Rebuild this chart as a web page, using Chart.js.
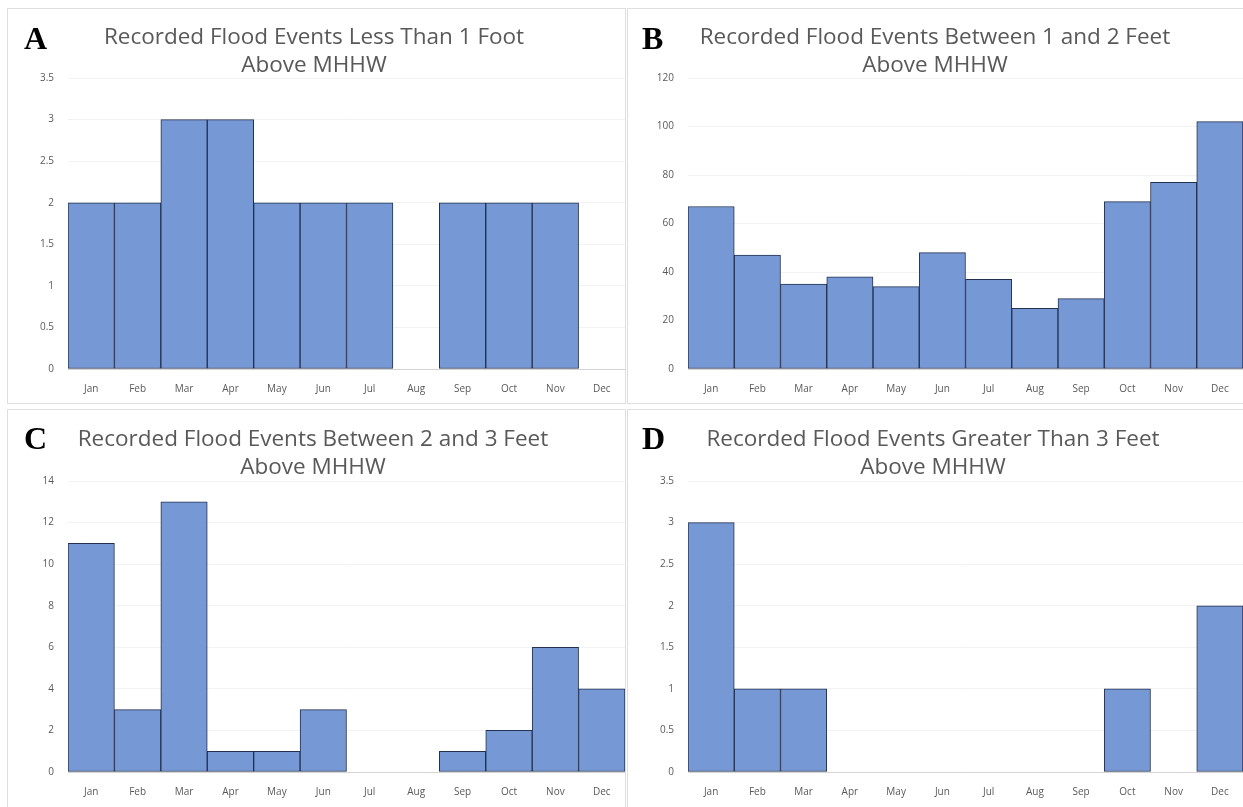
<!DOCTYPE html>
<html>
<head>
<meta charset="utf-8">
<script src="https://cdn.jsdelivr.net/npm/chart.js@4.4.1/dist/chart.umd.min.js"></script>
<style>
  body { margin: 0; background: #fff; width: 1243px; height: 807px; overflow: hidden; position: relative; }
  .frame { position: absolute; border: 1px solid #dedede; box-sizing: border-box; }
  .cv { position: absolute; }
  .letter { position: absolute; font-family: "Liberation Serif", "DejaVu Serif", serif; font-weight: bold; font-size: 32px; color: #000; line-height: 1; }
  .ttl { position: absolute; font-family: "Open Sans", sans-serif; font-size: 22.5px; color: #595959; white-space: nowrap; transform: translate(-50%, -50%); line-height: 1; }
</style>
</head>
<body>
<div class="frame" style="left:7px;top:8px;width:619px;height:396px"></div>
<div class="frame" style="left:627px;top:8px;width:630px;height:396px"></div>
<div class="frame" style="left:7px;top:409px;width:619px;height:420px"></div>
<div class="frame" style="left:627px;top:409px;width:630px;height:420px"></div>

<canvas class="cv" id="cA" style="left:0;top:0"></canvas>
<canvas class="cv" id="cB" style="left:620px;top:0"></canvas>
<canvas class="cv" id="cC" style="left:0;top:406px"></canvas>
<canvas class="cv" id="cD" style="left:620px;top:406px"></canvas>

<div class="letter" style="left:24px;top:22px">A</div>
<div class="letter" style="left:642px;top:22px">B</div>
<div class="letter" style="left:24px;top:422px">C</div>
<div class="letter" style="left:642px;top:422px">D</div>

<div class="ttl" style="left:314px;top:36px">Recorded Flood Events Less Than 1 Foot</div>
<div class="ttl" style="left:314px;top:64px">Above MHHW</div>
<div class="ttl" style="left:935px;top:36px">Recorded Flood Events Between 1 and 2 Feet</div>
<div class="ttl" style="left:935px;top:64px">Above MHHW</div>
<div class="ttl" style="left:313px;top:438px">Recorded Flood Events Between 2 and 3 Feet</div>
<div class="ttl" style="left:313px;top:466px">Above MHHW</div>
<div class="ttl" style="left:933px;top:438px">Recorded Flood Events Greater Than 3 Feet</div>
<div class="ttl" style="left:933px;top:466px">Above MHHW</div>

<script>
// month categories
const months = ['Jan', 'Feb', 'Mar', 'Apr', 'May', 'Jun', 'Jul', 'Aug', 'Sep', 'Oct', 'Nov', 'Dec'];

// recorded flood events per month
const lessThan1Ft = [2, 2, 3, 3, 2, 2, 2, 0, 2, 2, 2, 0];
const between1and2Ft = [67, 47, 35, 38, 34, 48, 37, 25, 29, 69, 77, 102];
const between2and3Ft = [11, 3, 13, 1, 1, 3, 0, 0, 1, 2, 6, 4];
const greaterThan3Ft = [3, 1, 1, 0, 0, 0, 0, 0, 0, 1, 0, 2];

// y axis max / step per panel (A, B, C, D)
const yMax = [3.5, 120, 14, 3.5];
const yStep = [0.5, 20, 2, 0.5];

const tickFont = { family: 'Open Sans', size: 10 };

function makeChart(id, data, max, step, w, h, topPad) {
  const cv = document.getElementById(id);
  cv.width = w; cv.height = h;
  cv.style.width = w + 'px'; cv.style.height = h + 'px';
  return new Chart(cv, {
    type: 'bar',
    data: {
      labels: months,
      datasets: [{
        data: data,
        backgroundColor: '#7698d4',
        borderColor: '#233150',
        borderWidth: 1,
        borderSkipped: false,
        categoryPercentage: 1,
        barPercentage: 1
      }]
    },
    options: {
      responsive: false,
      animation: false,
      layout: { padding: { top: topPad, left: 0, right: 0, bottom: 0 } },
      plugins: { legend: { display: false }, tooltip: { enabled: false } },
      scales: {
        x: {
          grid: { display: false },
          border: { display: false },
          ticks: { font: tickFont, color: '#595959', padding: 6, maxRotation: 0 },
          afterFit: s => { s.height = 36; }
        },
        y: {
          min: 0,
          max: max,
          ticks: { stepSize: step, font: tickFont, color: '#595959', padding: 14, callback: v => String(v) },
          grid: {
            drawTicks: false,
            color: c => c.tick && c.tick.value === 0 ? '#d4d4d4' : '#f2f2f2'
          },
          border: { display: false },
          afterFit: s => { s.width = 68; }
        }
      }
    }
  });
}

makeChart('cA', lessThan1Ft, yMax[0], yStep[0], 625, 405, 78);
makeChart('cB', between1and2Ft, yMax[1], yStep[1], 623, 405, 78);
makeChart('cC', between2and3Ft, yMax[2], yStep[2], 625, 402, 75);
makeChart('cD', greaterThan3Ft, yMax[3], yStep[3], 623, 402, 75);
</script>
</body>
</html>
